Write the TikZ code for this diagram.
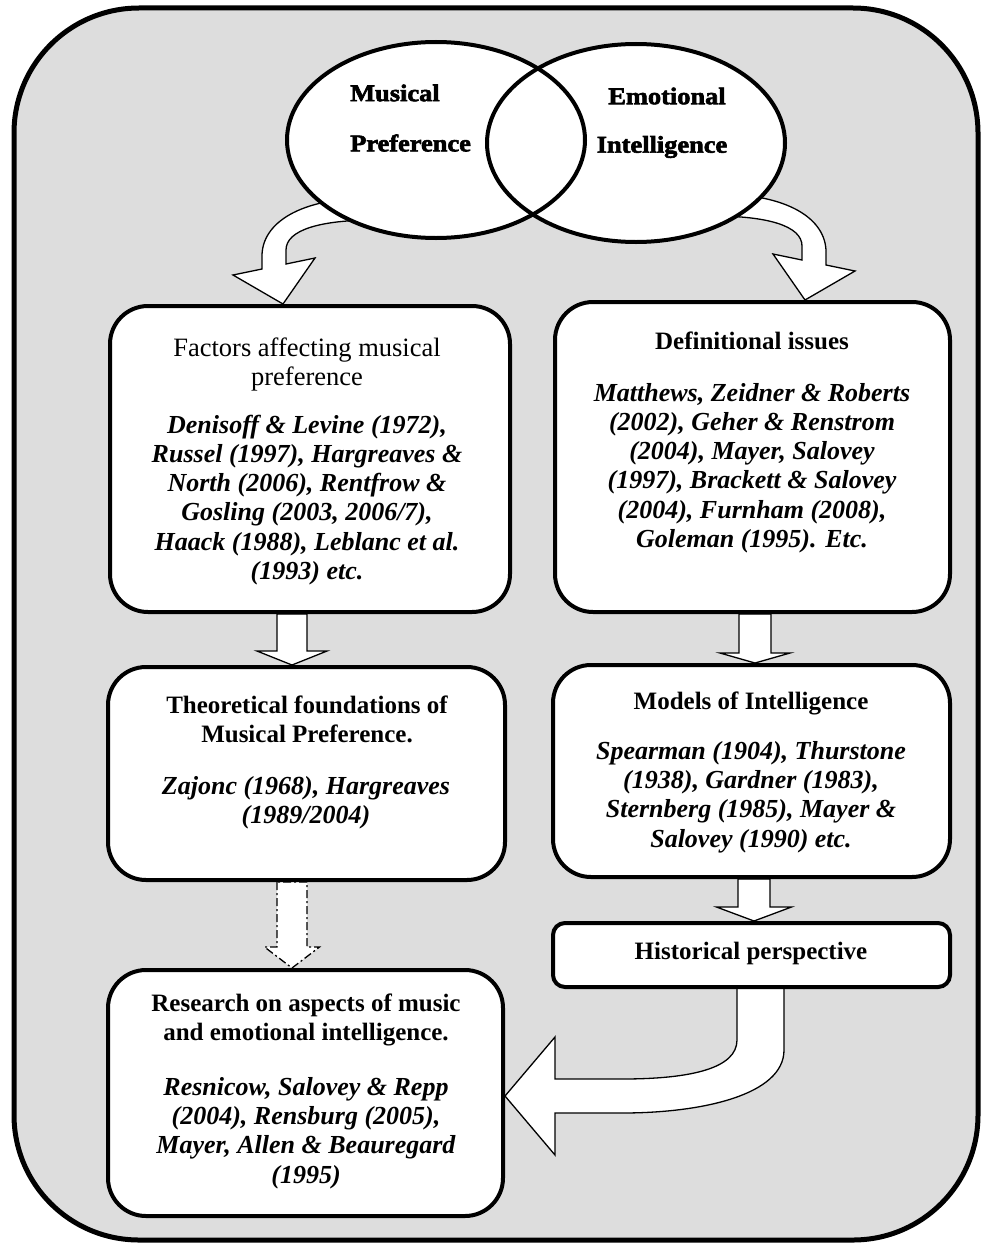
\documentclass[tikz,border=0pt]{standalone}
\usepackage{fontspec}
\setmainfont{Liberation Serif}
\newfontfamily\vennfont{Liberation Serif}[UprightFont={* Bold}, FakeStretch=1.1, FakeBold=2.5]
\usetikzlibrary{shapes.geometric,calc}
\definecolor{panel}{RGB}{221,221,221}
\pgfdeclarelayer{frame}
\pgfdeclarelayer{links}
\pgfsetlayers{frame,links,main}

% straight block arrow: [style] start, tip, shaft half-width, head half-width, head length
\newcommand\blockarrow[6][]{%
  \draw[arrowbody,#1] let \p1=(#2), \p2=(#3) in
    (\x1-#4pt,\y1) -- (\x1-#4pt,\y2+#6pt) -- (\x1-#5pt,\y2+#6pt) -- (\x1,\y2)
    -- (\x1+#5pt,\y2+#6pt) -- (\x1+#4pt,\y2+#6pt) -- (\x1+#4pt,\y1) -- cycle;}

% curved block arrow leaving an ellipse, drawn relative to its tip
\newcommand\curlarrow{%
  (87,-106) .. controls (17,-106) and (-21,-81) .. (-21,-48) -- (-21,-35)
  -- (-50,-29) -- (0,0) -- (32,-46) -- (3,-40) -- (3,-54)
  .. controls (3,-74) and (37,-84) .. (92,-84) -- cycle}

\begin{document}
\begin{tikzpicture}[x=1pt,y=-1pt,
  box/.style={draw,line width=4pt,fill=white,rounded corners=38pt,inner sep=0pt},
  smallbox/.style={box,rounded corners=12pt},
  vennfill/.style={ellipse,fill=white,inner sep=0pt},
  vennline/.style={ellipse,draw,line width=4pt,inner sep=0pt},
  vennlabel/.style={font=\vennfont\fontsize{24}{28}\selectfont,inner sep=0pt},
  title/.style={font=\fontsize{25}{29}\selectfont\bfseries,align=center,inner sep=0pt},
  plaintitle/.style={font=\fontsize{26.5}{29}\selectfont,align=center,inner sep=0pt},
  body/.style={font=\fontsize{26}{29.2}\selectfont\bfseries\itshape,align=center,inner sep=0pt},
  arrowbody/.style={draw,fill=white,line width=1.3pt,line join=miter},
  dashbody/.style={dash pattern=on 8pt off 3pt on 2pt off 3pt}]
\useasboundingbox (0,0) rectangle (984,1247);

% outer panel
\begin{pgfonlayer}{frame}
  \draw[line width=5pt,fill=panel,rounded corners=125pt] (14,8) rectangle (978,1240);
\end{pgfonlayer}

% Venn diagram
\node[vennfill,minimum width=298pt,minimum height=196pt] (mp) at (436,140) {};
\node[vennfill,minimum width=298pt,minimum height=198pt] (ei) at (636,143) {};
\node[vennline,minimum width=298pt,minimum height=196pt] (mpo) at (mp) {};
\node[vennline,minimum width=298pt,minimum height=198pt] (eio) at (ei) {};
\node[vennlabel,anchor=west] (mus) at (350,93) {Musical};
\node[vennlabel,anchor=west] (pref) at (350,143) {Preference};
\node[vennlabel] (emo) at (667,96) {Emotional};
\node[vennlabel] (intel) at (662,147) {Intelligence};

% boxes
\node[box,minimum width=400pt,minimum height=306pt] (factors) at (310,459) {};
\node[box,minimum width=395pt,minimum height=310pt] (def) at (752.5,457) {};
\node[box,minimum width=397pt,minimum height=213pt] (theo) at (306.5,773.5) {};
\node[box,minimum width=397pt,minimum height=212pt] (models) at (751.5,771) {};
\node[smallbox,minimum width=397pt,minimum height=64pt] (hist) at (751.5,955) {};
\node[box,minimum width=395pt,minimum height=246pt] (res) at (305.5,1093) {};

% texts
\node[plaintitle] (factorsT) at (307,364) {Factors affecting musical\\preference};
\node[body] (factorsB) at (307,500) {Denisoff \& Levine (1972),\\Russel (1997), Hargreaves \&\\North (2006), Rentfrow \&\\Gosling (2003, 2006/7),\\Haack (1988), Leblanc et al.\\(1993) etc.};
\node[title] (defT) at (752,341) {Definitional issues};
\node[body] (defB) at (752,468) {Matthews, Zeidner \& Roberts\\(2002), Geher \& Renstrom\\(2004), Mayer, Salovey\\(1997), Brackett \& Salovey\\(2004), Furnham (2008),\\Goleman (1995). Etc.};
\node[title] (theoT) at (307,719) {Theoretical foundations of\\Musical Preference.};
\node[body] (theoB) at (306,803) {Zajonc (1968), Hargreaves\\(1989/2004)};
\node[title] (modT) at (751,703) {Models of Intelligence};
\node[body] (modB) at (751,797) {Spearman (1904), Thurstone\\(1938), Gardner (1983),\\Sternberg (1985), Mayer \&\\Salovey (1990) etc.};
\node[title] (histT) at (751,953) {Historical perspective};
\node[title] (resT) at (306,1020) {Research on aspects of music\\and emotional intelligence.};
\node[body] (resB) at (306,1133) {Resnicow, Salovey \& Repp\\(2004), Rensburg (2005),\\Mayer, Allen \& Beauregard\\(1995)};

% arrow end points
\coordinate (ltip) at ([xshift=-27pt]factors.north);
\coordinate (rtip) at ([xshift=52.5pt]def.north);
\coordinate (a1s) at ([xshift=-18pt]factors.south);
\coordinate (a1e) at (a1s |- theo.north);
\coordinate (a2s) at ([xshift=2.5pt]def.south);
\coordinate (a2e) at (a2s |- models.north);
\coordinate (a3s) at ([xshift=2.5pt]models.south);
\coordinate (a3e) at (a3s |- hist.north);
\coordinate (a4s) at ([xshift=-14.5pt]theo.south);
\coordinate (a4e) at (a4s |- res.north);
\coordinate (btip) at ([yshift=-3pt]res.east);

\begin{pgfonlayer}{links}
  % from the Venn diagram down to the two columns
  \draw[arrowbody,shift={(ltip)}] \curlarrow;
  \draw[arrowbody,shift={(rtip)},xscale=-1] \curlarrow;
  % column arrows
  \blockarrow{a1s}{a1e}{15}{35}{14}
  \blockarrow{a2s}{a2e}{16}{35}{10}
  \blockarrow{a3s}{a3e}{16}{37.5}{14}
  \blockarrow[dashbody]{a4s}{a4e}{15}{27.5}{21}
  % historical perspective into the research box
  \draw[arrowbody,shift={(btip)}]
    (232,-109) -- (232,-56) .. controls (232,-28) and (187,-17) .. (117,-17)
    -- (50,-17) -- (50,-59) -- (0,0) -- (50,59) -- (50,17) -- (117,17)
    .. controls (197,17) and (279,-1) .. (279,-46) -- (279,-109) -- cycle;
\end{pgfonlayer}
\end{tikzpicture}
\end{document}
